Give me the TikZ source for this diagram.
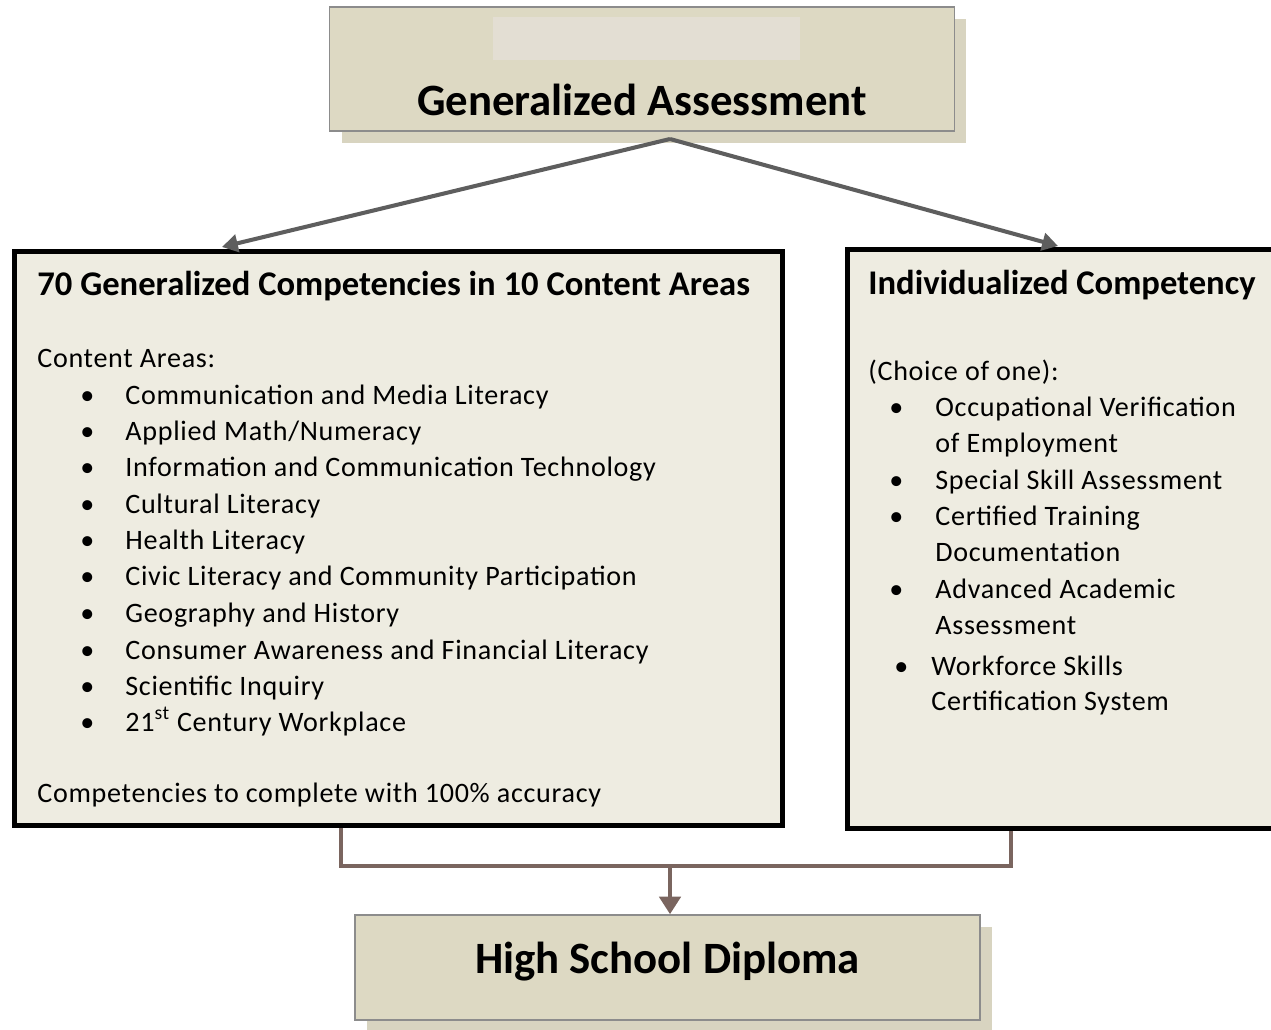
\documentclass[tikz,border=0pt]{standalone}
\usepackage{fontspec}
\setmainfont{Carlito}
\newfontfamily\areafamily[LetterSpace=2.5]{Carlito}
\usetikzlibrary{arrows.meta,shadows}

\definecolor{tanbox}{HTML}{DDD9C3}
\definecolor{tanshade}{HTML}{D8D4C0}
\definecolor{tanlight}{HTML}{EEECE1}
\definecolor{tanpatch}{HTML}{E3DED3}
\definecolor{arrowgray}{HTML}{5E5E5E}
\definecolor{arrowbrown}{HTML}{7A655F}

\newcommand\titlefont{\fontsize{25.5}{30}\bfseries\selectfont}
\newcommand\headfont{\fontsize{19.7}{24}\bfseries\selectfont}
\newcommand\areafont{\areafamily\fontsize{16}{19}\selectfont}

\tikzset{
  endbox/.style={draw=black!45, line width=0.9pt, fill=tanbox, minimum width=12.5cm, inner sep=0pt,
    drop shadow={shadow xshift=0.24cm, shadow yshift=-0.24cm, fill=tanshade, opacity=1}},
  compbox/.style={draw=black, line width=2.85pt, fill=tanlight, inner sep=0pt},
  txt/.style={anchor=base west, inner sep=0pt, font=\areafont},
  toparrow/.style={draw=arrowgray, line width=2.3pt, -{Triangle[length=9pt, width=10pt]}},
  joinline/.style={draw=arrowbrown, line width=2.8pt},
  joinarrow/.style={draw=arrowbrown, line width=2.8pt, -{Triangle[length=10pt, width=12pt]}}
}

\begin{document}
\begin{tikzpicture}[x=0.02cm, y=-0.02cm]
			%%%%% FRAME %%%%%
			\useasboundingbox (0, 0) rectangle (1271, 1029);
			\clip (0, 0) rectangle (1271, 1029);
			
			%%%%% BOXES %%%%%
			\node[endbox, minimum height=2.48cm] (ga) at (642, 69) {};
			\fill[tanpatch] (493, 17) rectangle (800, 60);
			\node[anchor=base, inner sep=0pt, font=\titlefont] (gaText) at (642, 115) {Generalized Assessment};
			
			\node[compbox, minimum width=15.36cm, minimum height=11.48cm] (gc) at (398.5, 538.5) {};
			\node[compbox, minimum width=8.8cm, minimum height=11.58cm] (ic) at (1067.5, 539) {};
			
			\node[endbox, minimum height=2.1cm] (hsd) at (667.5, 967.5) {};
			\node[anchor=base, inner sep=0pt, font=\titlefont] (hsdText) at (667.5, 973) {High School Diploma};
			
			%%%%% LEFT TEXT %%%%%
			\node[txt, font=\headfont] (gcHead) at (37, 295) {70 Generalized Competencies in 10 Content Areas};
			\node[txt] (gcAreas) at (37, 367) {Content Areas:};
			
			\node[txt] (b1) at (80, 404) {\textbullet};
			\node[txt] (area1) at (125, 404) {Communication and Media Literacy};
			\node[txt] (b2) at (80, 440) {\textbullet};
			\node[txt] (area2) at (125, 440) {Applied Math/Numeracy};
			\node[txt] (b3) at (80, 476) {\textbullet};
			\node[txt] (area3) at (125, 476) {Information and Communication Technology};
			\node[txt] (b4) at (80, 513) {\textbullet};
			\node[txt] (area4) at (125, 513) {Cultural Literacy};
			\node[txt] (b5) at (80, 549) {\textbullet};
			\node[txt] (area5) at (125, 549) {Health Literacy};
			\node[txt] (b6) at (80, 585) {\textbullet};
			\node[txt] (area6) at (125, 585) {Civic Literacy and Community Participation};
			\node[txt] (b7) at (80, 622) {\textbullet};
			\node[txt] (area7) at (125, 622) {Geography and History};
			\node[txt] (b8) at (80, 659) {\textbullet};
			\node[txt] (area8) at (125, 659) {Consumer Awareness and Financial Literacy};
			\node[txt] (b9) at (80, 695) {\textbullet};
			\node[txt] (area9) at (125, 695) {Scientific Inquiry};
			\node[txt] (b10) at (80, 731) {\textbullet};
			\node[txt] (area10) at (125, 731) {21\textsuperscript{st} Century Workplace};
			
			\node[txt] (gcNote) at (37, 802) {Competencies to complete with 100\% accuracy};
			
			%%%%% RIGHT TEXT %%%%%
			\node[txt, font=\headfont] (icHead) at (868, 294) {Individualized Competency};
			\node[txt] (icChoice) at (868, 380) {(Choice of one):};
			
			\node[txt] (c1) at (889, 416) {\textbullet};
			\node[txt] (choice1a) at (935, 416) {Occupational Verification};
			\node[txt] (choice1b) at (935, 452) {of Employment};
			\node[txt] (c2) at (889, 489) {\textbullet};
			\node[txt] (choice2) at (935, 489) {Special Skill Assessment};
			\node[txt] (c3) at (889, 525) {\textbullet};
			\node[txt] (choice3a) at (935, 525) {Certified Training};
			\node[txt] (choice3b) at (935, 561) {Documentation};
			\node[txt] (c4) at (889, 598) {\textbullet};
			\node[txt] (choice4a) at (935, 598) {Advanced Academic};
			\node[txt] (choice4b) at (935, 634) {Assessment};
			\node[txt] (c5) at (894, 675) {\textbullet};
			\node[txt] (choice5a) at (931, 675) {Workforce Skills};
			\node[txt] (choice5b) at (931, 710) {Certification System};
			
			%%%%% CONNECTORS %%%%%
			\coordinate (split) at (670, 139);
			\coordinate (gcIn) at (222, 247);
			\coordinate (icIn) at (1058, 246);
			\draw[toparrow] (split) -- (gcIn);
			\draw[toparrow] (split) -- (icIn);
			
			\coordinate (gcOut) at (341, 828);
			\coordinate (icOut) at (1011, 831);
			\coordinate (join) at (670, 866);
			\draw[joinline] (gcOut) |- (join) -| (icOut);
			\draw[joinarrow] (join) -- (join |- hsd.north);
			
			%%%%% END %%%%%
		\end{tikzpicture}
\end{document}
